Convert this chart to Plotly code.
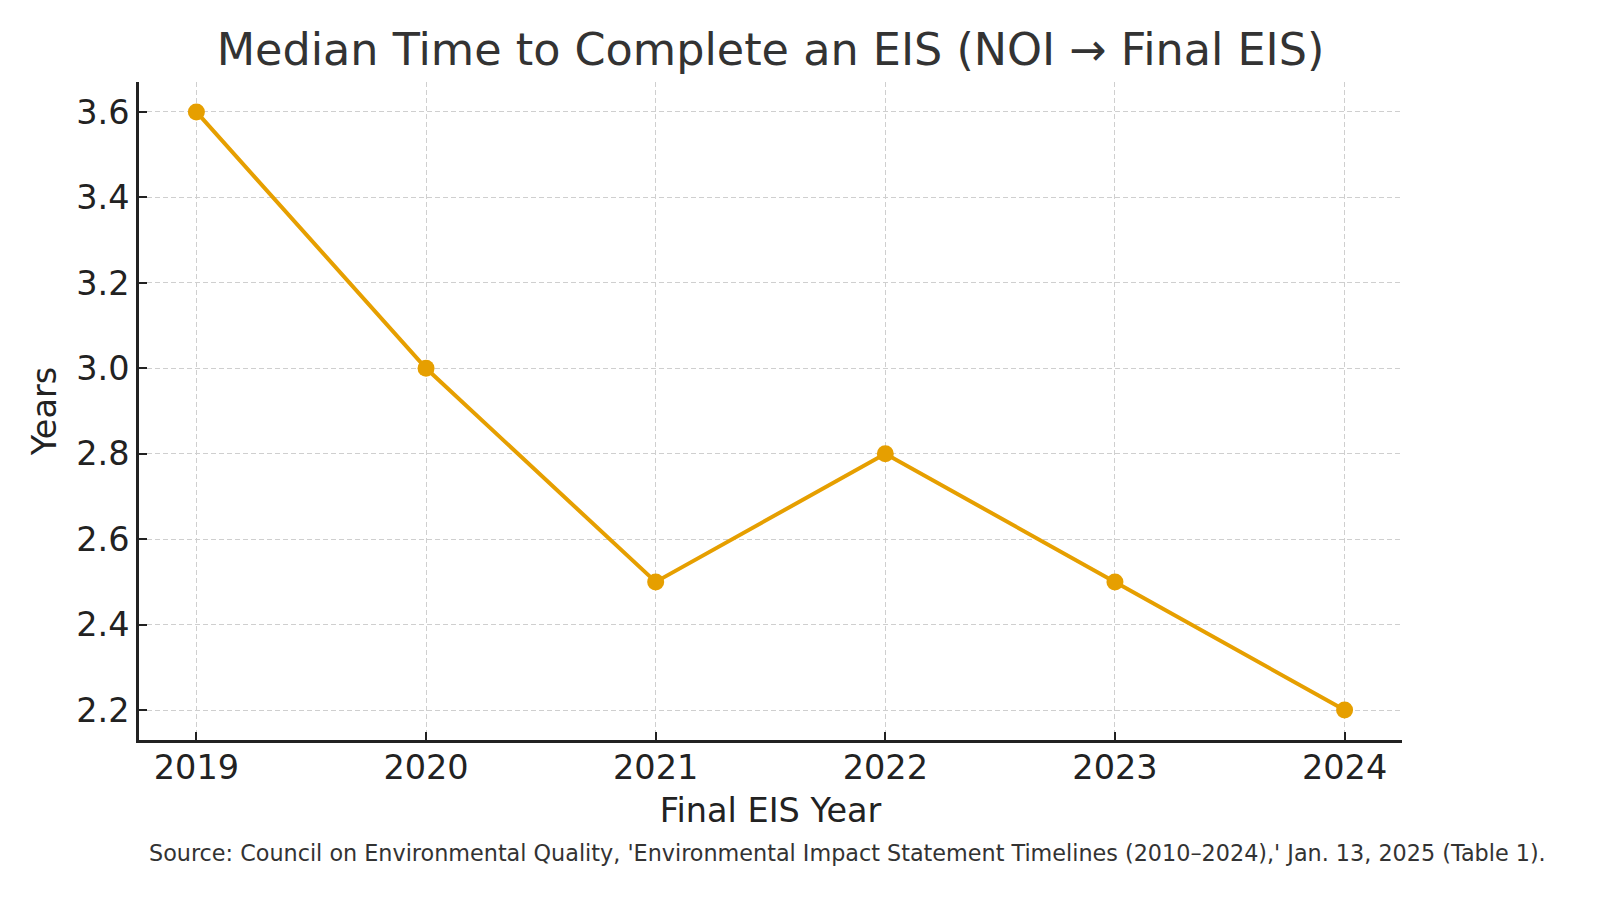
import plotly.graph_objects as go

years = [2019, 2020, 2021, 2022, 2023, 2024]
median_years = [3.6, 3.0, 2.5, 2.8, 2.5, 2.2]
y_ticks = [2.2, 2.4, 2.6, 2.8, 3.0, 3.2, 3.4, 3.6]
y_tick_labels = ["2.2", "2.4", "2.6", "2.8", "3.0", "3.2", "3.4", "3.6"]

title_text = "Median Time to Complete an EIS (NOI → Final EIS)"
x_title = "Final EIS Year"
y_title = "Years"
source_text = ("Source: Council on Environmental Quality, 'Environmental Impact Statement "
               "Timelines (2010–2024),' Jan. 13, 2025 (Table 1).")

FONT = "DejaVu Sans"
ORANGE = "#E69F00"

L, R, T, B = 139, 1402, 82, 740

fig = go.Figure()
fig.add_trace(go.Scatter(
    x=years, y=median_years, mode="lines+markers",
    line=dict(color=ORANGE, width=4),
    marker=dict(color=ORANGE, size=17),
    showlegend=False,
))

fig.update_layout(
    width=1600, height=900,
    margin=dict(l=L, r=1600 - R, t=T, b=900 - B),
    paper_bgcolor="white", plot_bgcolor="white",
    font=dict(family=FONT, color="#222222"),
    title=dict(text=title_text, x=(L + R) / 2 / 1600, xanchor="center",
               y=1 - 49 / 900, yanchor="middle",
               font=dict(size=44.5, color="#333333", family=FONT)),
    xaxis=dict(
        range=[2018.75, 2024.25], tickmode="array", tickvals=years,
        ticktext=[str(y) for y in years],
        showline=True, linecolor="#222222", linewidth=2.5,
        ticks="inside", ticklen=8, tickwidth=1.5, tickcolor="#222222",
        tickfont=dict(size=33.5, color="#222222"),
        ticklabelstandoff=-4,
        showgrid=True, gridcolor="#cfcfcf", griddash="5px,3px", gridwidth=1.4,
        zeroline=False,
        title=dict(text=x_title, font=dict(size=33.5, color="#222222"), standoff=13),
    ),
    yaxis=dict(
        range=[2.13, 3.67], tickmode="array", tickvals=y_ticks, ticktext=y_tick_labels,
        showline=True, linecolor="#222222", linewidth=2.5,
        ticks="inside", ticklen=8, tickwidth=1.5, tickcolor="#222222",
        tickfont=dict(size=33.5, color="#222222"),
        showgrid=True, gridcolor="#cfcfcf", griddash="5px,3px", gridwidth=1.4,
        zeroline=False,
        title=dict(text=y_title, font=dict(size=33.5, color="#222222"), standoff=10),
    ),
    annotations=[dict(
        text=source_text, xref="paper", yref="paper",
        x=(847 - L) / (R - L), y=-(853 - B) / (B - T),
        xanchor="center", yanchor="middle", showarrow=False,
        font=dict(size=22.3, color="#333333", family=FONT),
    )],
)

fig.write_html("out.html")
